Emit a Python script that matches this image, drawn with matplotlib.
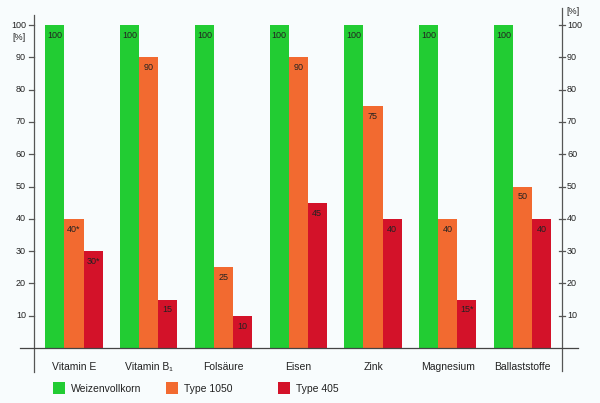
import matplotlib
matplotlib.use("Agg")
import matplotlib.pyplot as plt
from matplotlib.patches import Rectangle
from matplotlib.lines import Line2D

plt.rcParams['font.family'] = ['Liberation Sans', 'DejaVu Sans']

categories = ["Vitamin E", "Vitamin B\u2081", "Fols\u00e4ure", "Eisen", "Zink", "Magnesium", "Ballaststoffe"]
series_names = ["Weizenvollkorn", "Type 1050", "Type 405"]
weizen = [100, 100, 100, 100, 100, 100, 100]
type1050 = [40, 90, 25, 90, 75, 40, 50]
type405 = [30, 15, 10, 45, 40, 15, 40]
labels_weizen = ["100", "100", "100", "100", "100", "100", "100"]
labels_1050 = ["40*", "90", "25", "90", "75", "40", "50"]
labels_405 = ["30*", "15", "10", "45", "40", "15*", "40"]
yticks = [10, 20, 30, 40, 50, 60, 70, 80, 90, 100]

colors = ["#22cc33", "#f26a30", "#d31229"]
bg = "#f8fcfd"

W, H = 600, 403
fig = plt.figure(figsize=(6, 4.03), dpi=100, facecolor=bg)

def fx(px):
    return px / W

def fy(py):
    return 1 - py / H

# axes area in pixels
ax_l, ax_r, ax_t, ax_b = 20, 578, 8, 348
ax = fig.add_axes([fx(ax_l), fy(ax_b), fx(ax_r - ax_l), (ax_b - ax_t) / H])
ax.set_facecolor(bg)

c0, step = 74.0, 74.75
ppu = 3.23
ax.set_xlim((ax_l - c0) / step, (ax_r - c0) / step)
ax.set_ylim(0, (ax_b - ax_t) / ppu)

for s in ["left", "right", "top"]:
    ax.spines[s].set_visible(False)
ax.spines["bottom"].set_color("#444444")
ax.spines["bottom"].set_linewidth(0.9)
ax.set_xticks([])
ax.set_yticks([])

bw = 0.255
x = list(range(len(categories)))
series = [weizen, type1050, type405]
labs = [labels_weizen, labels_1050, labels_405]
for k, (vals, lab) in enumerate(zip(series, labs)):
    xs = [xi + (k - 1) * bw for xi in x]
    ax.bar(xs, vals, width=bw, color=colors[k], edgecolor="none", zorder=2)
    for xi, v, t in zip(xs, vals, lab):
        ax.annotate(t, (xi, v), xytext=(0, -7.5), textcoords="offset points",
                    ha="center", va="center", fontsize=6.5, color="#222222", zorder=3)

# category labels
for xi, c in zip(x, categories):
    ax.annotate(c, (xi, 0), xytext=(0, -14), textcoords="offset points",
                ha="center", va="center", fontsize=7.5, color="#222222", annotation_clip=False)

def dx(px):
    return (px - c0) / step

def dy(py):
    return (ax_b - py) / ppu

# left axis
ax.add_line(Line2D([dx(34), dx(34)], [dy(15), dy(372)], color="#555555", lw=0.9, clip_on=False))
for t in yticks:
    ax.add_line(Line2D([dx(29), dx(34)], [t, t], color="#555555", lw=0.9, clip_on=False))
    ax.text(dx(26), t, str(t), ha="right", va="center", fontsize=6.5, color="#222222", clip_on=False)
ax.text(dx(26), dy(37), "[%]", ha="right", va="center", fontsize=6.5, color="#222222", clip_on=False)

# right axis
ax.add_line(Line2D([dx(562), dx(562)], [dy(8), dy(371)], color="#555555", lw=0.9, clip_on=False))
for t in yticks:
    ax.add_line(Line2D([dx(559), dx(565)], [t, t], color="#555555", lw=0.9, clip_on=False))
    ax.text(dx(567), t, str(t), ha="left", va="center", fontsize=6.5, color="#222222", clip_on=False)
ax.text(dx(566), dy(11), "[%]", ha="left", va="center", fontsize=6.5, color="#222222", clip_on=False)

# legend
leg_x = [53, 166, 278]
leg_y = 388
for lx, name, col in zip(leg_x, series_names, colors):
    fig.patches.append(Rectangle((fx(lx), fy(leg_y + 6)), fx(12), 12 / H,
                                 transform=fig.transFigure, facecolor=col, edgecolor="none"))
    fig.text(fx(lx + 18), fy(leg_y + 1), name, ha="left", va="center", fontsize=7.5, color="#222222")

fig.savefig("out.png", dpi=100, facecolor=bg)
